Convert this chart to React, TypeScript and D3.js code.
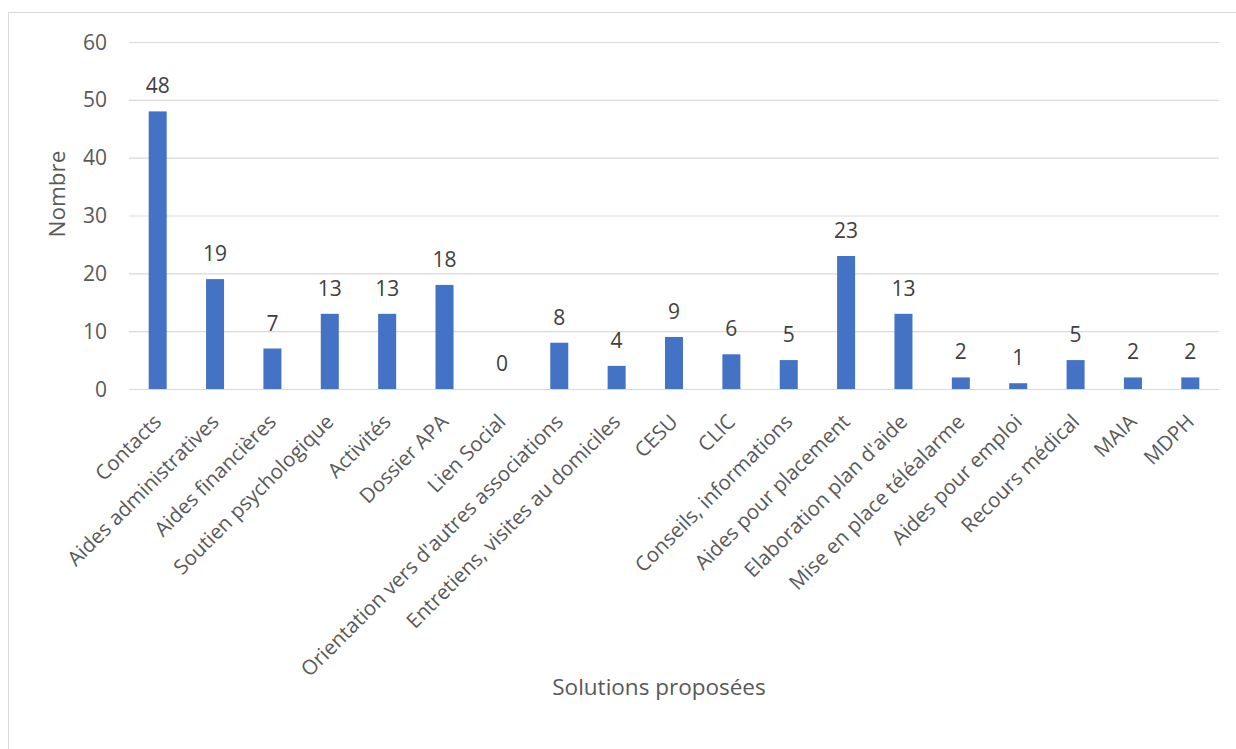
import React from "react";
import * as d3 from "d3";

const categories = [
  "Contacts",
  "Aides administratives",
  "Aides financières",
  "Soutien psychologique",
  "Activités",
  "Dossier APA",
  "Lien Social",
  "Orientation vers d'autres associations",
  "Entretiens, visites au domiciles",
  "CESU",
  "CLIC",
  "Conseils, informations",
  "Aides pour placement",
  "Elaboration plan d'aide",
  "Mise en place téléalarme",
  "Aides pour emploi",
  "Recours médical",
  "MAIA",
  "MDPH",
];
const values = [48, 19, 7, 13, 13, 18, 0, 8, 4, 9, 6, 5, 23, 13, 2, 1, 5, 2, 2];
const yTicks = [0, 10, 20, 30, 40, 50, 60];

const W = 1236;
const H = 749;
const FONT = "'Open Sans', sans-serif";

export default function App() {
  const x = d3.scaleBand<string>().domain(categories).range([129, 1219]).paddingInner(0.686).paddingOuter(0.343);
  const y = d3.scaleLinear().domain([0, 60]).range([389, 42]);
  const bw = x.bandwidth();
  return (
    <svg width={W} height={H} style={{ position: "absolute", left: 0, top: 0 }}>
      <rect x={0} y={0} width={W} height={H} fill="#fff" />
      <rect x={8.5} y={12.5} width={W + 10} height={H + 10} fill="none" stroke="#d9d9d9" strokeWidth={1} />
      {yTicks.map((t) => (
        <g key={t}>
          <line x1={129} x2={1219} y1={y(t) + 0.5} y2={y(t) + 0.5} stroke="#d9d9d9" strokeWidth={1.2} />
          <text x={107} y={y(t)} dy="0.36em" textAnchor="end" fontFamily={FONT} fontSize={21} fill="#595959">
            {t}
          </text>
        </g>
      ))}
      {categories.map((c, i) => {
        const cx = (x(c) as number) + bw / 2;
        return (
          <g key={c}>
            <rect x={x(c) as number} y={y(values[i])} width={bw} height={y(0) - y(values[i])} fill="#4472c4" />
            <text x={cx} y={y(values[i]) - 18} textAnchor="middle" fontFamily={FONT} fontSize={21} fill="#404040">
              {values[i]}
            </text>
            <text
              transform={`translate(${cx},${418}) rotate(-45)`}
              textAnchor="end"
              dy="0.35em"
              fontFamily={FONT}
              fontSize={20.5}
              fill="#595959"
            >
              {c}
            </text>
          </g>
        );
      })}
      <text transform={`translate(57,194) rotate(-90)`} textAnchor="middle" dy="0.35em" fontFamily={FONT} fontSize={22.5} fill="#595959">
        Nombre
      </text>
      <text x={659} y={695} textAnchor="middle" fontFamily={FONT} fontSize={22.5} fill="#595959">
        Solutions proposées
      </text>
    </svg>
  );
}
